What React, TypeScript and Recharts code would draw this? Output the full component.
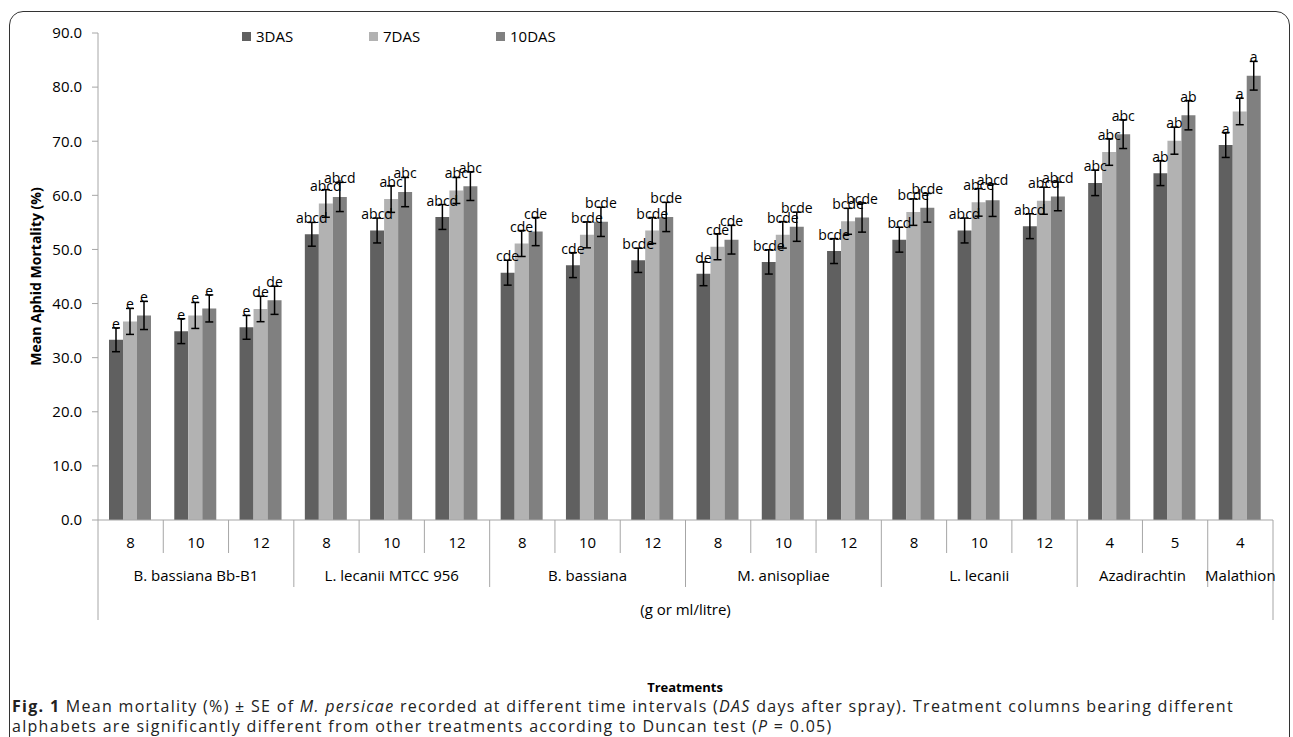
import { BarChart, Bar, XAxis, YAxis, ErrorBar, LabelList, Label } from "recharts";

// doses (g or ml/litre) per treatment column
const doses = ["8", "10", "12", "8", "10", "12", "8", "10", "12", "8", "10", "12", "8", "10", "12", "4", "5", "4"];
const groups = ["B. bassiana Bb-B1", "L. lecanii MTCC 956", "B. bassiana", "M. anisopliae", "L. lecanii", "Azadirachtin", "Malathion"];
const groupSizes = [3, 3, 3, 3, 3, 2, 1];

// mean mortality (%)
const das3 = [33.3, 34.9, 35.6, 52.8, 53.5, 56.0, 45.7, 47.1, 48.0, 45.5, 47.7, 49.7, 51.8, 53.5, 54.3, 62.3, 64.1, 69.3];
const das7 = [36.7, 37.8, 39.0, 58.5, 59.3, 60.9, 51.1, 52.7, 53.5, 50.5, 52.7, 55.2, 56.9, 58.7, 59.0, 68.0, 70.1, 75.5];
const das10 = [37.8, 39.1, 40.6, 59.7, 60.6, 61.7, 53.3, 55.1, 56.0, 51.8, 54.2, 55.9, 57.7, 59.1, 59.8, 71.3, 74.8, 82.1];

// standard errors
const se3 = [2.2, 2.3, 2.2, 2.2, 2.3, 2.3, 2.3, 2.3, 2.25, 2.2, 2.25, 2.3, 2.3, 2.3, 2.3, 2.35, 2.3, 2.3];
const se7 = [2.4, 2.4, 2.35, 2.55, 2.45, 2.4, 2.4, 2.4, 2.4, 2.4, 2.45, 2.4, 2.45, 2.55, 2.5, 2.45, 2.5, 2.45];
const se10 = [2.6, 2.5, 2.6, 2.7, 2.7, 2.65, 2.6, 2.7, 2.7, 2.65, 2.7, 2.7, 2.65, 3.0, 2.65, 2.65, 2.7, 2.65];

// Duncan letters
const let3 = ["e", "e", "e", "abcd", "abcd", "abcd", "cde", "cde", "bcde", "de", "bcde", "bcde", "bcd", "abcd", "abcd", "abc", "ab", "a"];
const let7 = ["e", "e", "de", "abcd", "abc", "abc", "cde", "bcde", "bcde", "cde", "bcde", "bcde", "bcde", "abce", "abcd", "abc", "ab", "a"];
const let10 = ["e", "e", "de", "abcd", "abc", "abc", "cde", "bcde", "bcde", "cde", "bcde", "bcde", "bcde", "abcd", "abcd", "abc", "ab", "a"];

const yTicks = [0, 10, 20, 30, 40, 50, 60, 70, 80, 90];

const series = [
  { key: "d3", name: "3DAS", color: "#606060" },
  { key: "d7", name: "7DAS", color: "#b2b2b2" },
  { key: "d10", name: "10DAS", color: "#808080" },
];

const data = doses.map((dose, i) => ({
  dose,
  d3: das3[i], d7: das7[i], d10: das10[i],
  e3: se3[i], e7: se7[i], e10: se10[i],
  l3: let3[i], l7: let7[i], l10: let10[i],
}));

const FONT = "'Open Sans', sans-serif";
const AXIS = "#a6a6a6";
const PLOT_LEFT = 98;
const PLOT_RIGHT = 1273;
const BAND = (PLOT_RIGHT - PLOT_LEFT) / doses.length;

// first index of each group
const groupStart: number[] = [];
groupSizes.reduce((acc, n) => {
  groupStart.push(acc);
  return acc + n;
}, 0);

const CategoryTick = (props: any) => {
  const { x, y, payload } = props;
  const i = payload.index;
  const left = x - BAND / 2;
  const g = groupStart.indexOf(i);
  const isLast = i === doses.length - 1;
  let len = 33;
  if (g >= 0) len = 67;
  if (i === 0) len = 100;
  return (
    <g>
      <line x1={left} x2={left} y1={y} y2={y + len} stroke={AXIS} />
      {isLast && <line x1={x + BAND / 2} x2={x + BAND / 2} y1={y} y2={y + 100} stroke={AXIS} />}
      <text x={x} y={y + 28} textAnchor="middle" fontSize={15} fontFamily={FONT} fill="#000">
        {doses[i]}
      </text>
      {g >= 0 && (
        <text x={left + (groupSizes[g] * BAND) / 2} y={y + 61} textAnchor="middle" fontSize={15} fontFamily={FONT} fill="#000">
          {groups[g]}
        </text>
      )}
    </g>
  );
};

const letterLabel = (seArr: number[], valArr: number[]) => (props: any) => {
  const { x, y, width, height, value, index } = props;
  const errTop = y - (seArr[index] / valArr[index]) * height;
  return (
    <text x={x + width / 2} y={errTop + 1} textAnchor="middle" fontSize={14} fontFamily={FONT} fill="#000">
      {value}
    </text>
  );
};

const yTitle = (props: any) => {
  const { viewBox } = props;
  const cy = viewBox.y + viewBox.height / 2;
  return (
    <text x={35} y={cy} transform={`rotate(-90 35 ${cy})`} textAnchor="middle" dominantBaseline="central"
      fontSize={14} fontWeight="bold" fontFamily={FONT} fill="#000">
      Mean Aphid Mortality (%)
    </text>
  );
};

export default function App() {
  return (
    <div style={{ position: "absolute", left: 0, top: 0, width: 1293, height: 737, overflow: "hidden", background: "#fff" }}>
      <div style={{ position: "absolute", left: 9, top: 11, width: 1281, height: 800, border: "1.5px solid #333", borderRadius: 14, boxSizing: "border-box" }} />
      <div style={{ position: "absolute", left: 0, top: 0 }}>
        <BarChart width={1293} height={737} data={data} margin={{ top: 33, right: 20, left: 0, bottom: 117 }}
          barCategoryGap={11} barGap={0}>
          <XAxis dataKey="dose" height={100} stroke={AXIS} tickLine={false} tickSize={0} tickMargin={0}
            interval={0} tick={<CategoryTick />}>
            <Label value="(g or ml/litre)" position="insideBottom" offset={5} fontSize={15} fontFamily={FONT} fill="#000" />
          </XAxis>
          <YAxis width={98} domain={[0, 90]} ticks={yTicks} interval={0} stroke={AXIS} tickSize={6} tickMargin={10}
            tickFormatter={(v: number) => v.toFixed(1)}
            tick={{ fontSize: 15, fontFamily: FONT, fill: "#000" }} label={yTitle} />
          <Bar dataKey="d3" name="3DAS" fill={series[0].color} isAnimationActive={false}>
            <ErrorBar dataKey="e3" width={4} stroke="#000" strokeWidth={1.5} />
            <LabelList dataKey="l3" content={letterLabel(se3, das3)} />
          </Bar>
          <Bar dataKey="d7" name="7DAS" fill={series[1].color} isAnimationActive={false}>
            <ErrorBar dataKey="e7" width={4} stroke="#000" strokeWidth={1.5} />
            <LabelList dataKey="l7" content={letterLabel(se7, das7)} />
          </Bar>
          <Bar dataKey="d10" name="10DAS" fill={series[2].color} isAnimationActive={false}>
            <ErrorBar dataKey="e10" width={4} stroke="#000" strokeWidth={1.5} />
            <LabelList dataKey="l10" content={letterLabel(se10, das10)} />
          </Bar>
        </BarChart>
      </div>
      {/* legend */}
      <div style={{ position: "absolute", left: 242, top: 26, display: "flex", fontFamily: FONT, fontSize: 15, color: "#000" }}>
        {series.map((s) => (
          <div key={s.key} style={{ width: 127, display: "flex", alignItems: "center", height: 20 }}>
            <span style={{ width: 9, height: 9, background: s.color, marginRight: 5, display: "inline-block" }} />
            {s.name}
          </div>
        ))}
      </div>
      <div style={{ position: "absolute", left: 0, width: 1370, top: 678, textAlign: "center", fontFamily: FONT, fontSize: 13, fontWeight: "bold" }}>
        Treatments
      </div>
      <div style={{ position: "absolute", left: 12, top: 696, width: 1290, fontFamily: FONT, fontSize: 16, letterSpacing: 1.3,
        lineHeight: "20px", color: "#222", whiteSpace: "nowrap" }}>
        <b>Fig. 1</b> Mean mortality (%) ± SE of <i>M. persicae</i> recorded at different time intervals (<i>DAS</i> days after spray). Treatment columns bearing different
        <br />
        alphabets are significantly different from other treatments according to Duncan test (<i>P</i> = 0.05)
      </div>
    </div>
  );
}
